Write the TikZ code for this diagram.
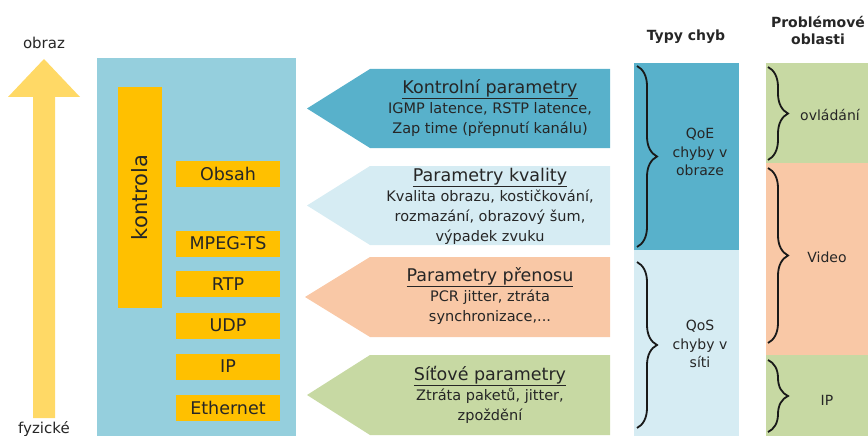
\documentclass[tikz,border=0pt]{standalone}
\usepackage{fontspec}
\setmainfont{DejaVu Sans}
\usepackage{tikz}
\usetikzlibrary{positioning, decorations.pathreplacing}

\definecolor{modra}{HTML}{95CFDD}
\definecolor{oranzova}{HTML}{FFC000}
\definecolor{zluta}{HTML}{FFD966}
\definecolor{tmavemodra}{HTML}{58B1CB}
\definecolor{svetlemodra}{HTML}{D6ECF3}
\definecolor{broskvova}{HTML}{F9C8A6}
\definecolor{zelena}{HTML}{C7D9A3}
\definecolor{pismo}{HTML}{262626}

\newcommand{\nadpis}[1]{{\fontsize{17.5}{21}\selectfont\underline{#1}}}

\begin{document}
\begin{tikzpicture}[x=1pt, y=-1pt,
        vrstva/.style={fill=oranzova, text=pismo, minimum width=104pt, minimum height=26pt, inner sep=0pt, font=\fontsize{17.5}{20}\selectfont},
        parametr/.style={align=center, text=pismo, font=\fontsize{14.5}{20}\selectfont},
        chyba/.style={align=center, text=pismo, font=\fontsize{14}{18.5}\selectfont},
        zavorka/.style={decorate, decoration={brace, amplitude=20pt}, line width=1.8pt, draw=black!90}]

    \useasboundingbox (0,0) rectangle (868,436);

    % osa obraz -- fyzicke
    \fill [zluta] (33,418) -- (33,97) -- (8,97) -- (44,59) -- (80,97) -- (55,97) -- (55,418) -- cycle;
    \node (obraz) [text=pismo, font=\fontsize{15}{18}\selectfont] at (44,43) {obraz};
    \node (fyzicke) [anchor=base, text=pismo, font=\fontsize{15}{18}\selectfont] at (44,433) {fyzické};

    % protokoly
    \node (zasobnik) [fill=modra, minimum width=199pt, minimum height=380pt, inner sep=0pt] at (196.5,248) {};
    \node (kontrola) [fill=oranzova, text=pismo, minimum width=221pt, minimum height=44pt, inner sep=0pt, rotate=90, font=\fontsize{21}{24}\selectfont] at (140,197.5) {kontrola};
    \node (obsah) [vrstva] at (228,174) {Obsah};
    \node (mpeg) [vrstva] at (228,243.5) {MPEG-TS};
    \node (rtp) [vrstva] at (228,284) {RTP};
    \node (udp) [vrstva] at (228,325.5) {UDP};
    \node (ipv) [vrstva] at (228,366.5) {IP};
    \node (ethernet) [vrstva] at (228,408) {Ethernet};

    % parametry
    \fill [tmavemodra] (610,69) -- (370,69) -- (307,108.5) -- (370,148) -- (610,148) -- cycle;
    \fill [svetlemodra] (610,166) -- (370,166) -- (307,205.5) -- (370,245) -- (610,245) -- cycle;
    \fill [broskvova] (610,257) -- (370,257) -- (305,297) -- (370,337) -- (610,337) -- cycle;
    \fill [zelena] (610,355) -- (370,355) -- (307,395) -- (370,435) -- (610,435) -- cycle;

    \node (kontrolni) [parametr] at (490,108) {\nadpis{Kontrolní parametry}\\ IGMP latence, RSTP latence,\\ Zap time (přepnutí kanálu)};
    \node (kvalita) [parametr] at (490,206) {\nadpis{Parametry kvality}\\ Kvalita obrazu, kostičkování,\\ rozmazání, obrazový šum,\\ výpadek zvuku};
    \node (prenos) [parametr] at (490,296) {\nadpis{Parametry přenosu}\\ PCR jitter, ztráta\\ synchronizace,...};
    \node (sit) [parametr] at (490,395) {\nadpis{Síťové parametry}\\ Ztráta paketů, jitter,\\ zpoždění};

    % typy chyb
    \node (typy) [text=pismo, font=\bfseries\fontsize{14}{17}\selectfont] at (686,37) {Typy chyb};
    \node (qoe) [fill=tmavemodra, minimum width=105pt, minimum height=187pt, inner sep=0pt] at (686.5,156.5) {};
    \node (qos) [fill=svetlemodra, minimum width=105pt, minimum height=186pt, inner sep=0pt] at (686.5,343) {};
    \node (qoetext) [chyba] at (700,152) {QoE\\chyby v\\obraze};
    \node (qostext) [chyba] at (700,344) {QoS\\chyby v\\síti};
    \draw [zavorka] (637,66) -- (637,247);
    \draw [zavorka] (637,262) -- (637,428);

    % problemove oblasti
    \node (oblasti) [align=center, text=pismo, font=\bfseries\fontsize{14}{17}\selectfont] at (818,31) {Problémové\\oblasti};
    \node (ovladani) [fill=zelena, minimum width=102pt, minimum height=100pt, inner sep=0pt] at (817,113) {};
    \node (video) [fill=broskvova, minimum width=102pt, minimum height=192pt, inner sep=0pt] at (817,259) {};
    \node (ipo) [fill=zelena, minimum width=102pt, minimum height=81pt, inner sep=0pt] at (817,395.5) {};
    \node (ovladanitext) [chyba] at (830,115) {ovládání};
    \node (videotext) [chyba] at (827,257) {Video};
    \node (iptext) [chyba] at (827,400) {IP};
    \draw [zavorka] (768,67) -- (768,160);
    \draw [zavorka] (768,168) -- (768,343);
    \draw [zavorka] (768,360) -- (768,432);
\end{tikzpicture}
\end{document}
